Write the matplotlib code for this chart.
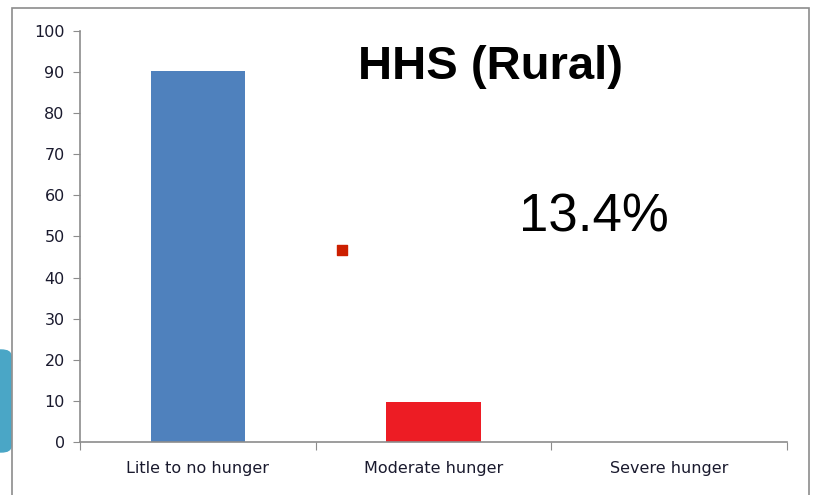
import numpy as np
import matplotlib.pyplot as plt
from matplotlib.patches import Rectangle, FancyBboxPatch

# data
categories = ['Litle to no hunger', 'Moderate hunger', 'Severe hunger']
values = [90.2, 9.8, 0]
bar_colors = ['#4f81bd', '#ed1c24', '#a5a5a5']
stray_point = (0.61, 46.7)  # stray red marker on the slide
title = 'HHS (Rural)'
note = '13.4%'

W, H = 815, 495
fig = plt.figure(figsize=(W / 100, H / 100), dpi=100)

# teal decoration peeking in from the slide at the left edge
fig.patches.append(FancyBboxPatch((-20 / W, (H - 452) / H), 31 / W, 102 / H,
                                  boxstyle='round,pad=0,rounding_size=0.012',
                                  transform=fig.transFigure, color='#4aa6c6',
                                  zorder=0))
# chart frame
fig.patches.append(Rectangle((12 / W, -0.05), (809 - 12) / W, (H - 8) / H + 0.05,
                             transform=fig.transFigure, fill=True,
                             facecolor='white', edgecolor='#8c8c8c', lw=1.2,
                             zorder=1))

ax = fig.add_axes([80 / W, (H - 442) / H, (787 - 80) / W, (442 - 31) / H])
ax.set_facecolor('none')
ax.set_zorder(2)

x = np.arange(len(categories))
ax.bar(x, values, width=0.4, color=bar_colors, zorder=2)
ax.scatter([stray_point[0]], [stray_point[1]], marker='s', s=55,
           color='#cc1f00', zorder=3)

ax.set_xlim(-0.5, 2.5)
ax.set_ylim(0, 100)
ax.set_yticks(np.arange(0, 101, 10))
ax.set_xticks([-0.5, 0.5, 1.5, 2.5])
ax.set_xticklabels([])
ax.set_xticks(x, minor=True)
ax.set_xticklabels(categories, minor=True)
ax.tick_params(axis='x', which='minor', length=0, pad=14, labelsize=11.5,
               labelcolor='#1a1a2e')
ax.tick_params(axis='x', which='major', length=6, color='#8c8c8c', direction='out')
ax.tick_params(axis='y', length=5, color='#8c8c8c', labelsize=11.5,
               labelcolor='#1a1a2e', pad=6)
for s in ['top', 'right']:
    ax.spines[s].set_visible(False)
for s in ['left', 'bottom']:
    ax.spines[s].set_color('#8c8c8c')
    ax.spines[s].set_linewidth(1.2)

fig.text(491 / W, 1 - 79 / H, title, ha='center', va='baseline',
         family='Liberation Sans', fontweight='bold', fontsize=34, color='black')
fig.text(594 / W, 1 - 232 / H, note, ha='center', va='baseline',
         family='Liberation Sans', fontsize=38, color='black')

fig.savefig('out.png', dpi=100)
